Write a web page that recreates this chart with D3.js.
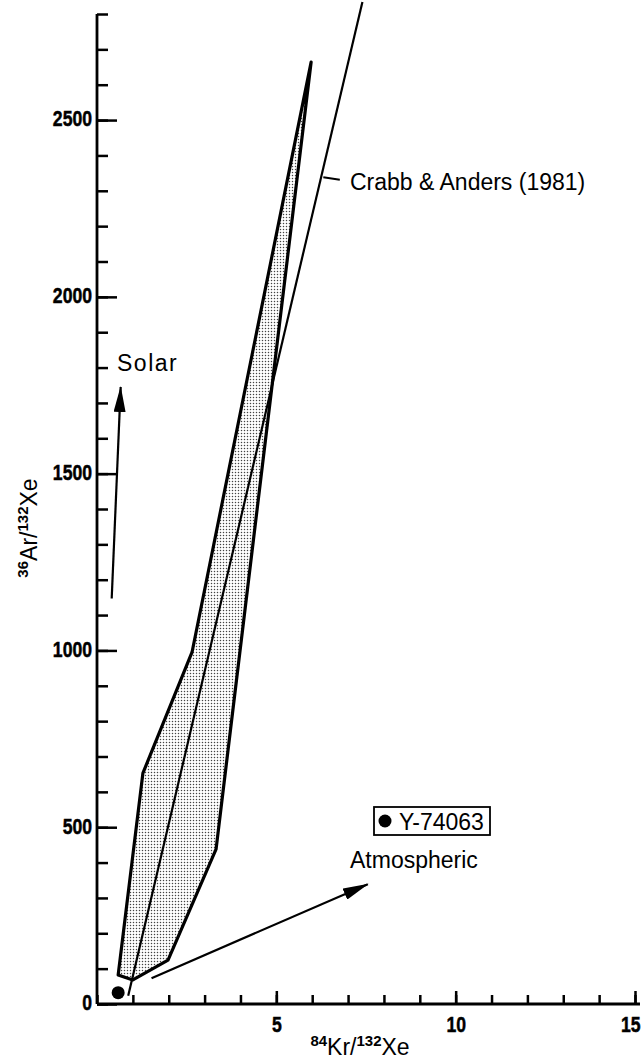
<!DOCTYPE html>
<html lang="en">
<head>
<meta charset="UTF-8">
<title>Ar/Xe vs Kr/Xe</title>
<script src="https://d3js.org/d3.v7.min.js"></script>
<style>
  body { margin: 0; background: #fff; }
  svg { display: block; }
  .tick text { font-family: "Liberation Sans", Arial, sans-serif; font-weight: bold; font-size: 22px; fill: #000; stroke: #000; stroke-width: 0.5px; }
  .lbl { font-family: "Liberation Sans", Arial, sans-serif; font-size: 23px; fill: #000; }
  .sup { font-family: "Liberation Sans", Arial, sans-serif; font-weight: bold; font-size: 15px; }
</style>
</head>
<body>
<svg id="chart" width="643" height="1061"></svg>
<script>
// tick values
var xMinor = d3.range(0, 16, 1);
var xMajor = [5, 10, 15];
var yMinor = d3.range(0, 2900, 100);
var yMajor = [0, 500, 1000, 1500, 2000, 2500];

// shaded field (84Kr/132Xe, 36Ar/132Xe)
var bandKr = [0.59, 1.28, 2.65, 5.97, 3.32, 1.98, 1.00];
var bandAr = [82, 653, 995, 2664, 438, 124, 68];

// Crabb & Anders (1981) line
var crabbKr = [0.87, 7.40];
var crabbAr = [23, 2834];
var crabbTickKr = [6.31, 6.77];
var crabbTickAr = [2338, 2331];

// arrows
var solarKr = [0.41, 0.66];
var solarAr = [1147, 1745];
var atmKr = [1.52, 7.55];
var atmAr = [73, 339];

// Y-74063 sample
var sampleKr = [0.59];
var sampleAr = [32];

var svg = d3.select("#chart");

var x = d3.scaleLinear().domain([0, 15]).range([97, 635]);
var y = d3.scaleLinear().domain([0, 2800]).range([1004, 14]);

var defs = svg.append("defs");
var pat = defs.append("pattern")
    .attr("id", "dots")
    .attr("width", 3).attr("height", 3)
    .attr("patternUnits", "userSpaceOnUse");
pat.append("rect").attr("width", 3).attr("height", 3).attr("fill", "#fff");
pat.append("circle").attr("cx", 1.5).attr("cy", 1.5).attr("r", 0.75).attr("fill", "#444");

defs.append("marker")
    .attr("id", "head")
    .attr("markerUnits", "userSpaceOnUse")
    .attr("viewBox", "0 0 26 12")
    .attr("refX", 25).attr("refY", 6)
    .attr("markerWidth", 26).attr("markerHeight", 12)
    .attr("orient", "auto")
  .append("path")
    .attr("d", "M0,0 L26,6 L0,12 Z")
    .attr("fill", "#000");

// axes
var yAxisMinor = d3.axisLeft(y).tickValues(yMinor).tickSize(-11).tickFormat("");
var yAxisMajor = d3.axisLeft(y).tickValues(yMajor).tickSize(-20).tickPadding(5).tickFormat(d3.format("d"));
var xAxisMinor = d3.axisBottom(x).tickValues(xMinor).tickSize(-9).tickFormat("");
var xAxisMajor = d3.axisBottom(x).tickValues(xMajor).tickSize(-13).tickPadding(12).tickFormat(d3.format("d"));

function styleAxis(g) {
  g.select(".domain").remove();
  g.selectAll(".tick line").attr("stroke", "#000").attr("stroke-width", 2.5);
}

svg.append("g").attr("transform", "translate(" + x(0) + ",0)").call(yAxisMinor).call(styleAxis);
var gy = svg.append("g").attr("transform", "translate(" + x(0) + ",0)").call(yAxisMajor).call(styleAxis);
svg.append("g").attr("transform", "translate(0," + y(0) + ")").call(xAxisMinor).call(styleAxis);
var gx = svg.append("g").attr("transform", "translate(0," + y(0) + ")").call(xAxisMajor).call(styleAxis);

// condensed look for the bold tick figures
gy.selectAll(".tick text")
    .attr("dy", null).attr("dominant-baseline", "middle")
    .attr("x", -5 / 0.8)
    .attr("transform", "scale(0.8,1)");
gx.selectAll(".tick text")
    .attr("dy", null).attr("dominant-baseline", "hanging")
    .attr("transform", "scale(0.8,1)");
gx.selectAll(".tick text").filter(function(d) { return d === 15; }).attr("dx", -6);

// axis lines
svg.append("line")
    .attr("x1", x(0)).attr("x2", x(0))
    .attr("y1", y(0)).attr("y2", y(2800))
    .attr("stroke", "#000").attr("stroke-width", 2.8);
svg.append("line")
    .attr("x1", x(0)).attr("x2", 640)
    .attr("y1", y(0)).attr("y2", y(0))
    .attr("stroke", "#000").attr("stroke-width", 2.8);

// shaded field
var band = bandKr.map(function(k, i) { return [x(k), y(bandAr[i])]; });
svg.append("path")
    .attr("d", d3.line()(band) + "Z")
    .attr("fill", "url(#dots)")
    .attr("stroke", "#000")
    .attr("stroke-width", 3.2)
    .attr("stroke-linejoin", "round");

// Crabb & Anders line
var line = d3.line().x(function(d) { return x(d[0]); }).y(function(d) { return y(d[1]); });
svg.append("path")
    .attr("d", line(d3.zip(crabbKr, crabbAr)))
    .attr("fill", "none").attr("stroke", "#000").attr("stroke-width", 2.2);
svg.append("path")
    .attr("d", line(d3.zip(crabbTickKr, crabbTickAr)))
    .attr("fill", "none").attr("stroke", "#000").attr("stroke-width", 2);
svg.append("text").attr("class", "lbl")
    .attr("x", 350).attr("y", 190)
    .text("Crabb & Anders (1981)");

// Solar arrow
svg.append("path")
    .attr("d", line(d3.zip(solarKr, solarAr)))
    .attr("fill", "none").attr("stroke", "#000").attr("stroke-width", 2.2)
    .attr("marker-end", "url(#head)");
svg.append("text").attr("class", "lbl")
    .attr("x", 117).attr("y", 371)
    .attr("letter-spacing", 1.5)
    .text("Solar");

// Atmospheric arrow
svg.append("path")
    .attr("d", line(d3.zip(atmKr, atmAr)))
    .attr("fill", "none").attr("stroke", "#000").attr("stroke-width", 2.2)
    .attr("marker-end", "url(#head)");
svg.append("text").attr("class", "lbl")
    .attr("x", 350).attr("y", 868)
    .text("Atmospheric");

// sample point
svg.selectAll("circle.sample")
    .data(d3.zip(sampleKr, sampleAr))
    .enter().append("circle")
    .attr("class", "sample")
    .attr("cx", function(d) { return x(d[0]); })
    .attr("cy", function(d) { return y(d[1]); })
    .attr("r", 6.5)
    .attr("fill", "#000");

// legend box
var leg = svg.append("g");
leg.append("rect")
    .attr("x", 374).attr("y", 807).attr("width", 116).attr("height", 28)
    .attr("fill", "none").attr("stroke", "#000").attr("stroke-width", 1.8);
leg.append("circle").attr("cx", 385).attr("cy", 821).attr("r", 6.5).attr("fill", "#000");
leg.append("text").attr("class", "lbl")
    .attr("x", 399).attr("y", 830)
    .text("Y-74063");

// axis titles
var xt = svg.append("text").attr("class", "lbl")
    .attr("x", 360).attr("y", 1055)
    .attr("text-anchor", "middle");
xt.append("tspan").attr("class", "sup").attr("dy", -9).text("84");
xt.append("tspan").attr("dy", 9).text("Kr/");
xt.append("tspan").attr("class", "sup").attr("dy", -9).text("132");
xt.append("tspan").attr("dy", 9).text("Xe");

var yt = svg.append("text").attr("class", "lbl")
    .attr("transform", "translate(37,528) rotate(-90)")
    .attr("text-anchor", "middle");
yt.append("tspan").attr("class", "sup").attr("dy", -9).text("36");
yt.append("tspan").attr("dy", 9).text("Ar/");
yt.append("tspan").attr("class", "sup").attr("dy", -9).text("132");
yt.append("tspan").attr("dy", 9).text("Xe");
</script>
</body>
</html>
